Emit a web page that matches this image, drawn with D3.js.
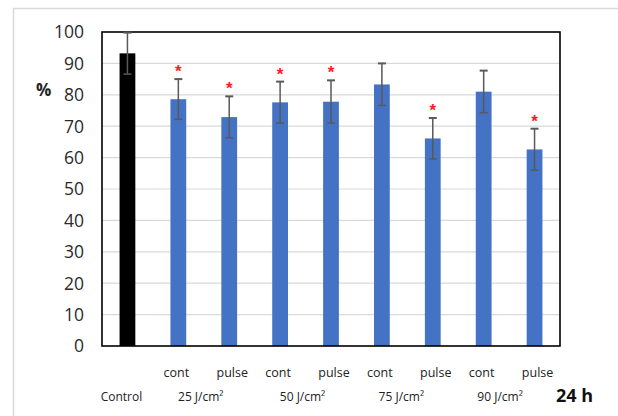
<!DOCTYPE html>
<html><head><meta charset="utf-8">
<script src="https://cdn.jsdelivr.net/npm/d3@7"></script>
<style>body{margin:0;background:#fff}svg{display:block}</style>
</head><body>
<script>
const groups = ["Control","25 J/cm²","50 J/cm²","75 J/cm²","90 J/cm²"];
const modes = ["","cont","pulse","cont","pulse","cont","pulse","cont","pulse"];
const values = [93.2, 78.6, 72.9, 77.6, 77.8, 83.3, 66.1, 81.0, 62.6];
const errors = [6.6, 6.4, 6.6, 6.6, 6.8, 6.7, 6.5, 6.7, 6.6];
const signif = [false, true, true, true, true, false, true, false, true];
const yTicks = [0,10,20,30,40,50,60,70,80,90,100];

const W=618,H=416;
const m={l:102,t:32,r:58,b:70};
const svg=d3.select("body").append("svg").attr("width",W).attr("height",H);
// outer frame
svg.append("path").attr("d",`M13.5,${H} V8.5 H${W}`).attr("fill","none").attr("stroke","#d9d9d9").attr("stroke-width",1.5);

const x=d3.scaleBand().domain(d3.range(values.length)).range([m.l,W-m.r]).paddingInner(0.69).paddingOuter(0.345);
const y=d3.scaleLinear().domain([0,100]).range([H-m.b,m.t]);

// grid
svg.append("g").selectAll("line").data(yTicks.slice(1,-1)).join("line")
 .attr("x1",m.l).attr("x2",W-m.r).attr("y1",d=>y(d)).attr("y2",d=>y(d))
 .attr("stroke","#d9d9d9").attr("stroke-width",1.2);

// bars
svg.append("g").selectAll("rect").data(values).join("rect")
 .attr("x",(d,i)=>x(i)).attr("width",x.bandwidth())
 .attr("y",d=>y(d)).attr("height",d=>y(0)-y(d))
 .attr("fill",(d,i)=>i===0?"#000":"#4472c4");

// frame
svg.append("rect").attr("x",m.l).attr("y",m.t).attr("width",W-m.r-m.l).attr("height",H-m.b-m.t)
 .attr("fill","none").attr("stroke","#000").attr("stroke-width",1.6);

// error bars
const eg=svg.append("g").attr("stroke","#595959").attr("stroke-width",1.5);
values.forEach((v,i)=>{
  const cx=x(i)+x.bandwidth()/2, hi=Math.min(100,v+errors[i]), lo=v-errors[i];
  eg.append("line").attr("x1",cx).attr("x2",cx).attr("y1",y(hi)).attr("y2",y(lo));
  eg.append("line").attr("x1",cx-4).attr("x2",cx+4).attr("y1",y(hi)).attr("y2",y(hi)).attr("stroke-width",2);
  eg.append("line").attr("x1",cx-4).attr("x2",cx+4).attr("y1",y(lo)).attr("y2",y(lo));
  if(signif[i]) svg.append("text").attr("x",cx).attr("y",y(v+errors[i])-2)
     .attr("text-anchor","middle").attr("fill","#ff1a1a").attr("font-family","Liberation Sans, Arial")
     .attr("font-size",17).attr("font-weight","bold").text("*");
});

// y axis labels
svg.append("g").selectAll("text").data(yTicks).join("text")
 .attr("x",84).attr("y",d=>y(d)).attr("dy","0.36em").attr("text-anchor","end")
 .attr("font-family","Open Sans, sans-serif").attr("font-size",17.5).attr("fill","#2b2b2b")
 .text(d=>d);
svg.append("text").attr("x",36).attr("y",90).attr("dy","0.36em")
 .attr("font-family","Open Sans, sans-serif").attr("font-size",17).attr("font-weight","bold").attr("fill","#222").text("%");

// mode labels
svg.append("g").selectAll("text").data(modes).join("text")
 .attr("x",(d,i)=>x(i)+x.bandwidth()/2+(d==="pulse"?3:-2)).attr("y",372).attr("dy","0.36em")
 .attr("text-anchor","middle").attr("font-family","Open Sans, sans-serif").attr("font-size",12.5).attr("fill","#222")
 .text(d=>d);

// group labels
const gx=[x(0)+x.bandwidth()/2-6, (x(1)+x(2))/2+x.bandwidth()/2-3, (x(3)+x(4))/2+x.bandwidth()/2-3, (x(5)+x(6))/2+x.bandwidth()/2-6, (x(7)+x(8))/2+x.bandwidth()/2-9];
svg.append("g").selectAll("text").data(groups).join("text")
 .attr("x",(d,i)=>gx[i]).attr("y",397).attr("dy","0.36em")
 .attr("text-anchor","middle").attr("font-family","Open Sans, sans-serif").attr("font-size",12).attr("fill","#222")
 .text(d=>d);
svg.append("text").attr("x",556).attr("y",396).attr("dy","0.36em")
 .attr("font-family","Open Sans, sans-serif").attr("font-size",18).attr("font-weight","bold").attr("fill","#111").text("24 h");
</script>
</body></html>
